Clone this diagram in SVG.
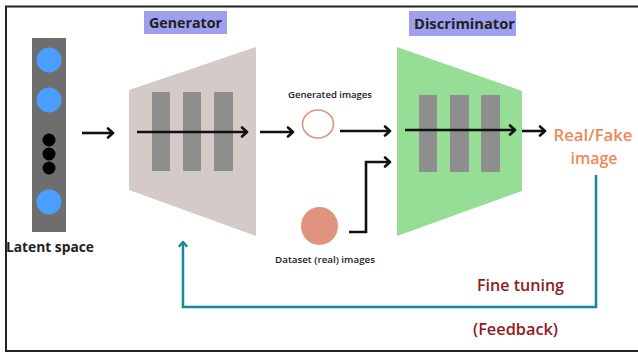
<svg xmlns="http://www.w3.org/2000/svg" width="638" height="353" viewBox="0 0 638 353">
  <defs>
    <marker id="arrowBlack" markerWidth="12" markerHeight="12" refX="9" refY="6" orient="auto" markerUnits="userSpaceOnUse">
      <path d="M4,1.5 L9,6 L4,10.5" fill="none" stroke="#111" stroke-width="2.6" stroke-linecap="round" stroke-linejoin="round"/>
    </marker>
    <marker id="arrowTeal" markerWidth="10" markerHeight="10" refX="8" refY="5" orient="auto" markerUnits="userSpaceOnUse">
      <path d="M4,1.5 L8,5 L4,8.5" fill="none" stroke="#17889a" stroke-width="2.4" stroke-linecap="round" stroke-linejoin="round"/>
    </marker>
  </defs>
  <style>
    .lbl { font-family: "Open Sans", "Liberation Sans", sans-serif; font-weight: 600; fill: #222; }
    .heavy { font-weight: 700; }
    .title-box { fill: #9f9ff0; }
    .bar { fill: #8e8e8e; }
    .flow { stroke: #111; stroke-width: 2.6; fill: none; marker-end: url(#arrowBlack); }
    .teal { stroke: #17889a; stroke-width: 2.5; fill: none; }
    .big { font-family: "Open Sans", "Liberation Sans", sans-serif; font-weight: 600; font-size: 16px; }
  </style>

  <rect x="0" y="0" width="638" height="353" fill="#ffffff"/>
  <!-- frame: top, left and bottom edges -->
  <path d="M6,352 L6,6.5 L638,6.5" fill="none" stroke="#222" stroke-width="2"/>
  <line x1="6" y1="351" x2="638" y2="351" stroke="#222" stroke-width="2"/>

  <!-- latent vector -->
  <g id="latent-space">
    <rect x="32" y="38" width="34" height="194" fill="#6e6e6e"/>
    <circle cx="49" cy="60" r="12.5" fill="#4a9eff"/>
    <circle cx="49" cy="100" r="12.5" fill="#4a9eff"/>
    <circle cx="49" cy="140" r="6.5" fill="#000"/>
    <circle cx="49" cy="154" r="6.5" fill="#000"/>
    <circle cx="49" cy="168" r="6.5" fill="#000"/>
    <circle cx="49" cy="202" r="12.5" fill="#4a9eff"/>
    <text class="lbl heavy" x="6" y="252" font-size="15" textLength="88" lengthAdjust="spacingAndGlyphs">Latent space</text>
  </g>

  <!-- generator network -->
  <g id="generator">
    <rect class="title-box" x="144" y="11" width="83" height="23"/>
    <text class="lbl heavy" x="149" y="28" font-size="15" textLength="73" lengthAdjust="spacingAndGlyphs">Generator</text>
    <polygon points="129,90 256,47 256,236 129,190" fill="#d4cac8"/>
    <rect class="bar" x="152" y="92" width="18" height="79"/>
    <rect class="bar" x="183" y="92" width="18" height="79"/>
    <rect class="bar" x="214" y="92" width="19" height="79"/>
  </g>

  <!-- generated sample -->
  <g id="generated-images">
    <text class="lbl" x="288" y="98" font-size="9.5" textLength="84" lengthAdjust="spacingAndGlyphs">Generated images</text>
    <ellipse cx="318" cy="124" rx="15.5" ry="14" fill="#fff" stroke="#e0937e" stroke-width="1.6"/>
  </g>

  <!-- real sample -->
  <g id="dataset-images">
    <ellipse cx="319.5" cy="226" rx="18.5" ry="19" fill="#e0937e"/>
    <text class="lbl" x="275" y="263" font-size="9.5" textLength="100" lengthAdjust="spacingAndGlyphs">Dataset (real) images</text>
  </g>

  <!-- discriminator network -->
  <g id="discriminator">
    <rect class="title-box" x="409" y="11" width="107" height="25"/>
    <text class="lbl heavy" x="414" y="29" font-size="15" textLength="101" lengthAdjust="spacingAndGlyphs">Discriminator</text>
    <polygon points="397,47 522,91 522,191 397,236" fill="#96dd96"/>
    <rect class="bar" x="419" y="95" width="18" height="77"/>
    <rect class="bar" x="450" y="95" width="19" height="77"/>
    <rect class="bar" x="481" y="95" width="19" height="77"/>
  </g>

  <!-- output -->
  <g id="output">
    <text class="big" x="593" y="141" fill="#f0875a" text-anchor="middle" textLength="79" lengthAdjust="spacingAndGlyphs">Real/Fake</text>
    <text class="big" x="594" y="164" fill="#f0875a" text-anchor="middle" textLength="47" lengthAdjust="spacingAndGlyphs">image</text>
  </g>

  <!-- feedback labels -->
  <g id="feedback">
    <text class="big" x="477" y="291" fill="#8e1b1b" textLength="87" lengthAdjust="spacingAndGlyphs">Fine tuning</text>
    <text class="big" x="473" y="335" fill="#8e1b1b" textLength="85" lengthAdjust="spacingAndGlyphs">(Feedback)</text>
  </g>

  <!-- connectors -->
  <g id="connectors">
    <line class="flow" x1="82" y1="133" x2="113" y2="133"/>
    <line class="flow" x1="137" y1="132" x2="247" y2="132"/>
    <line class="flow" x1="260" y1="132" x2="293" y2="132"/>
    <line class="flow" x1="340" y1="131" x2="390" y2="131"/>
    <polyline class="flow" points="349,232 366,232 366,162 390,162"/>
    <line class="flow" x1="405" y1="130" x2="515" y2="130"/>
    <line class="flow" x1="522" y1="131" x2="545" y2="131"/>
    <polyline class="teal" points="596,175 596,307 183,307 183,242" marker-end="url(#arrowTeal)"/>
  </g>
</svg>
